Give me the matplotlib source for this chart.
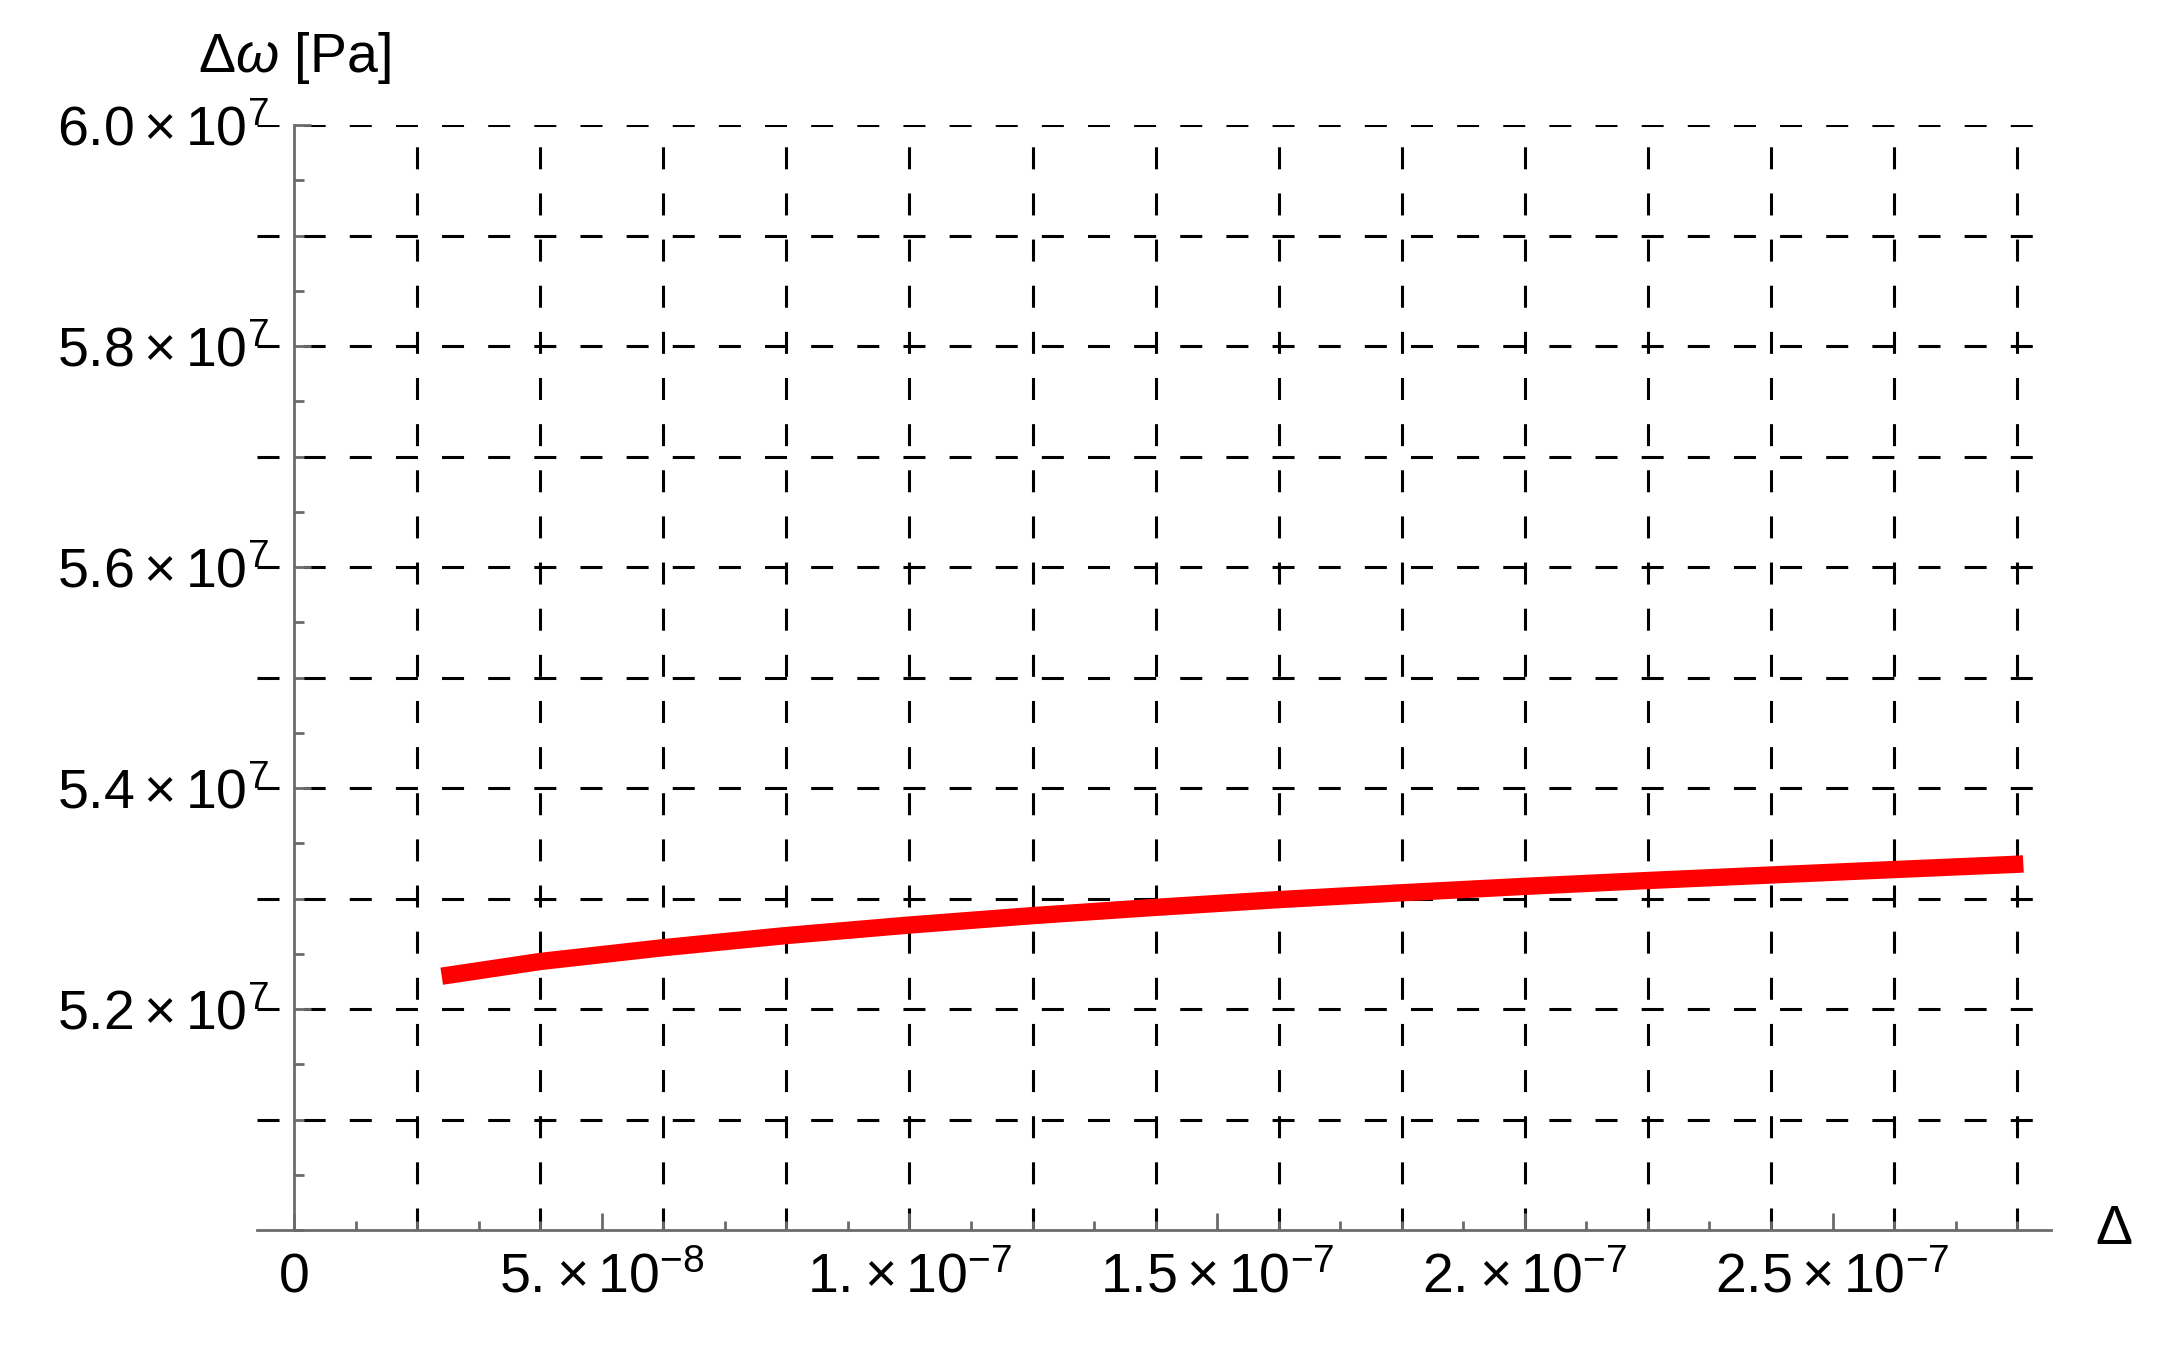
import numpy as np
import matplotlib
matplotlib.use('Agg')
import matplotlib.pyplot as plt
from matplotlib.ticker import MultipleLocator, FixedLocator

plt.rcParams['font.family'] = ['Liberation Sans', 'DejaVu Sans']
plt.rcParams['mathtext.fontset'] = 'custom'
plt.rcParams['mathtext.rm'] = 'Liberation Sans'
plt.rcParams['mathtext.it'] = 'Liberation Sans:italic'
plt.rcParams['mathtext.default'] = 'regular'

# values
delta = np.array([2.4, 4, 6, 8, 10, 12, 14, 16, 18, 20, 22, 24, 26, 28, 28.1]) * 1e-8
d_omega = np.array([5.2297, 5.2430, 5.2555, 5.2665, 5.2760, 5.2845, 5.2920, 5.2990,
                    5.3052, 5.3110, 5.3163, 5.3213, 5.3262, 5.3310, 5.3313]) * 1e7

x_ticks = [0, 5e-8, 1e-7, 1.5e-7, 2e-7, 2.5e-7]
x_labels = ['0', r'$5.\!\times10^{-8}$', r'$1.\!\times10^{-7}$', r'$1.5\times10^{-7}$',
            r'$2.\!\times10^{-7}$', r'$2.5\times10^{-7}$']
y_ticks = [5.2e7, 5.4e7, 5.6e7, 5.8e7, 6.0e7]
y_labels = [r'$5.2\times10^{7}$', r'$5.4\times10^{7}$', r'$5.6\times10^{7}$',
            r'$5.8\times10^{7}$', r'$6.0\times10^{7}$']

grid_x = np.arange(1, 15) * 2e-8
grid_y = np.arange(51, 61) * 1e6

axis_color = '#6b6b6b'
dash = (0, (7.2, 7.9))

fig = plt.figure(figsize=(21.75, 13.65), dpi=100)
ax = fig.add_axes([0.1182, 0.0989, 0.8248, 0.8095])

for gx in grid_x:
    ax.axvline(gx, color='black', lw=2.2, linestyle=dash, zorder=1)
for gy in grid_y:
    ax.axhline(gy, color='black', lw=2.2, linestyle=dash, zorder=1)

ax.plot(delta, d_omega, color='#ff0000', lw=12.5, solid_capstyle='butt',
        solid_joinstyle='round', zorder=3)

ax.set_xlim(-6e-9, 2.855e-7)
ax.set_ylim(5.0e7, 6.0e7)

ax.spines['top'].set_visible(False)
ax.spines['right'].set_visible(False)
ax.spines['left'].set_position(('data', 0))
for s in ('left', 'bottom'):
    ax.spines[s].set_color(axis_color)
    ax.spines[s].set_linewidth(2)
    ax.spines[s].set_zorder(2)

ax.xaxis.set_major_locator(FixedLocator(x_ticks))
ax.set_xticklabels(x_labels)
ax.xaxis.set_minor_locator(MultipleLocator(1e-8))
ax.yaxis.set_major_locator(FixedLocator(y_ticks))
ax.set_yticklabels(y_labels)
ax.yaxis.set_minor_locator(MultipleLocator(5e5))

ax.tick_params(axis='both', which='both', direction='in', color=axis_color, width=2,
               labelsize=40, labelcolor='black')
ax.tick_params(axis='x', which='major', length=12, pad=16)
ax.tick_params(axis='x', which='minor', length=6.5)
ax.tick_params(axis='y', which='major', length=12, pad=18)
ax.tick_params(axis='y', which='minor', length=7)

ax.text(0, 1.048, r'$\Delta\mathit{\omega}$ [Pa]', transform=ax.get_xaxis_transform(),
        ha='center', va='baseline', fontsize=40)
ax.text(1.0245, 0.0, r'$\Delta$', transform=ax.transAxes, ha='left', va='center',
        fontsize=40)

fig.savefig('out.png', dpi=100)
